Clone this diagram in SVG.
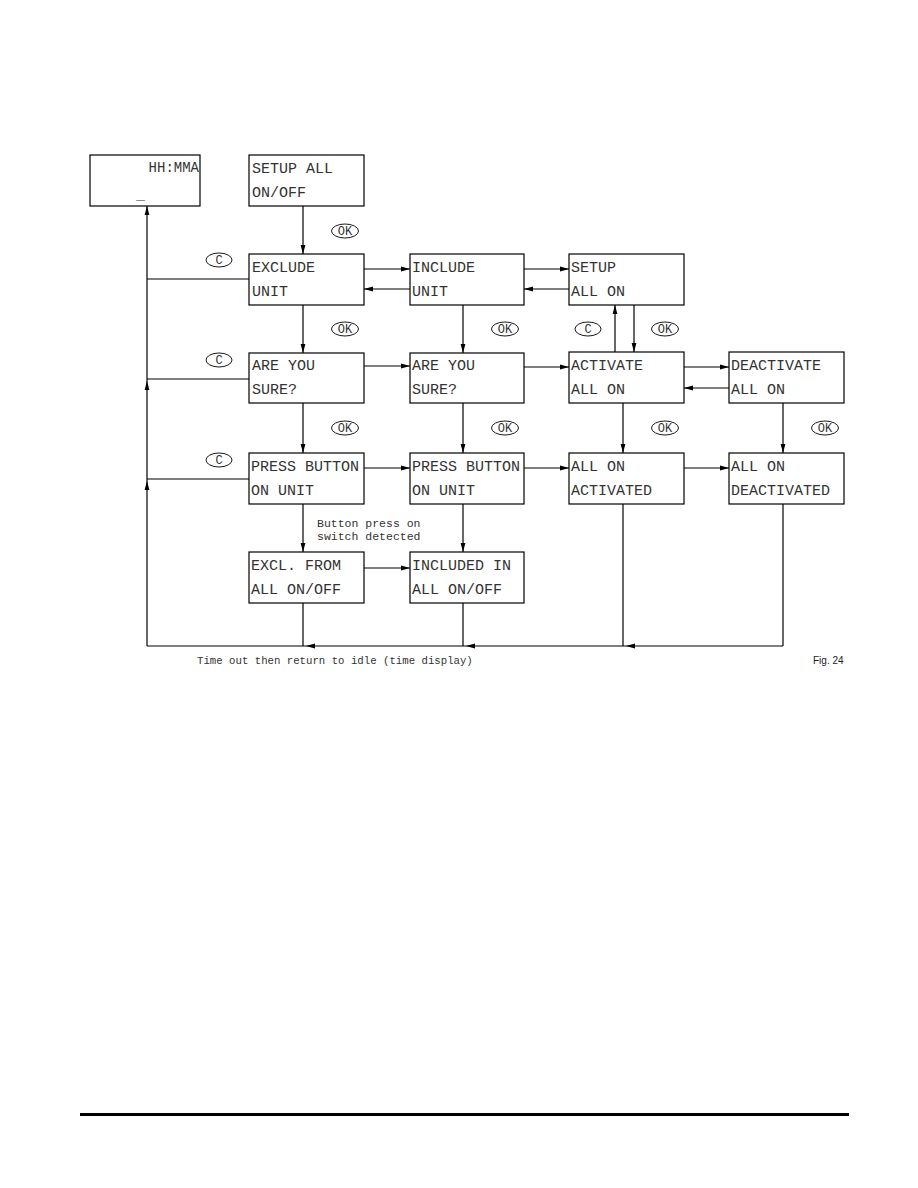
<svg xmlns="http://www.w3.org/2000/svg" width="918" height="1188" viewBox="0 0 918 1188">
<style>
.box{fill:#fff;stroke:#000;stroke-width:1.2}
.ln{fill:none;stroke:#000;stroke-width:1.2}
.t{font-family:"Liberation Mono","DejaVu Sans Mono",monospace;font-size:15px;fill:#333}
.s{font-family:"Liberation Mono","DejaVu Sans Mono",monospace;font-size:11.5px;fill:#333}
.ov{fill:#fff;stroke:#000;stroke-width:0.9}
.ot{font-family:"Liberation Mono","DejaVu Sans Mono",monospace;font-size:12px;fill:#333;text-anchor:middle}
</style>
<defs>
<marker id="ah" markerWidth="10" markerHeight="6" refX="9" refY="3" orient="auto" markerUnits="userSpaceOnUse">
<path d="M0,0.6 L9,3 L0,5.4 Z" fill="#000"/>
</marker>
</defs>
<rect width="918" height="1188" fill="#fff"/>

<g id="connectors">
<line class="ln" x1="303" y1="206" x2="303" y2="254" marker-end="url(#ah)"/>
<line class="ln" x1="364" y1="269" x2="410" y2="269" marker-end="url(#ah)"/>
<line class="ln" x1="410" y1="289" x2="364" y2="289" marker-end="url(#ah)"/>
<line class="ln" x1="524" y1="269" x2="569" y2="269" marker-end="url(#ah)"/>
<line class="ln" x1="569" y1="289" x2="524" y2="289" marker-end="url(#ah)"/>
<line class="ln" x1="303" y1="305" x2="303" y2="353" marker-end="url(#ah)"/>
<line class="ln" x1="463" y1="305" x2="463" y2="353" marker-end="url(#ah)"/>
<line class="ln" x1="615" y1="352" x2="615" y2="305" marker-end="url(#ah)"/>
<line class="ln" x1="634" y1="305" x2="634" y2="352" marker-end="url(#ah)"/>
<line class="ln" x1="364" y1="366" x2="410" y2="366" marker-end="url(#ah)"/>
<line class="ln" x1="524" y1="367" x2="569" y2="367" marker-end="url(#ah)"/>
<line class="ln" x1="684" y1="367" x2="729" y2="367" marker-end="url(#ah)"/>
<line class="ln" x1="729" y1="388" x2="684" y2="388" marker-end="url(#ah)"/>
<line class="ln" x1="303" y1="403" x2="303" y2="453" marker-end="url(#ah)"/>
<line class="ln" x1="463" y1="403" x2="463" y2="453" marker-end="url(#ah)"/>
<line class="ln" x1="623" y1="403" x2="623" y2="453" marker-end="url(#ah)"/>
<line class="ln" x1="783" y1="403" x2="783" y2="453" marker-end="url(#ah)"/>
<line class="ln" x1="364" y1="468" x2="410" y2="468" marker-end="url(#ah)"/>
<line class="ln" x1="524" y1="468" x2="569" y2="468" marker-end="url(#ah)"/>
<line class="ln" x1="684" y1="468" x2="729" y2="468" marker-end="url(#ah)"/>
<line class="ln" x1="303" y1="504" x2="303" y2="552" marker-end="url(#ah)"/>
<line class="ln" x1="463" y1="504" x2="463" y2="552" marker-end="url(#ah)"/>
<line class="ln" x1="364" y1="568" x2="410" y2="568" marker-end="url(#ah)"/>
<line class="ln" x1="303" y1="603" x2="303" y2="646"/>
<line class="ln" x1="463" y1="603" x2="463" y2="646"/>
<line class="ln" x1="623" y1="504" x2="623" y2="646"/>
<line class="ln" x1="783" y1="504" x2="783" y2="646"/>
<line class="ln" x1="783" y1="646" x2="626" y2="646" marker-end="url(#ah)"/>
<line class="ln" x1="626" y1="646" x2="466" y2="646" marker-end="url(#ah)"/>
<line class="ln" x1="466" y1="646" x2="306" y2="646" marker-end="url(#ah)"/>
<line class="ln" x1="306" y1="646" x2="147" y2="646"/>
<line class="ln" x1="147" y1="646" x2="147" y2="481" marker-end="url(#ah)"/>
<line class="ln" x1="147" y1="481" x2="147" y2="381" marker-end="url(#ah)"/>
<line class="ln" x1="147" y1="381" x2="147" y2="206" marker-end="url(#ah)"/>
<line class="ln" x1="249" y1="279" x2="147" y2="279"/>
<line class="ln" x1="249" y1="379" x2="147" y2="379"/>
<line class="ln" x1="249" y1="479" x2="147" y2="479"/>
</g>

<g id="keys">
<ellipse class="ov" cx="345" cy="231" rx="13.5" ry="7"/><text class="ot" x="345" y="235">OK</text>
<ellipse class="ov" cx="219" cy="260" rx="13" ry="7"/><text class="ot" x="219" y="264">C</text>
<ellipse class="ov" cx="345" cy="329" rx="13.5" ry="7"/><text class="ot" x="345" y="333">OK</text>
<ellipse class="ov" cx="505" cy="329" rx="13.5" ry="7"/><text class="ot" x="505" y="333">OK</text>
<ellipse class="ov" cx="588" cy="329" rx="13" ry="7"/><text class="ot" x="588" y="333">C</text>
<ellipse class="ov" cx="665" cy="329" rx="13.5" ry="7"/><text class="ot" x="665" y="333">OK</text>
<ellipse class="ov" cx="219" cy="360" rx="13" ry="7"/><text class="ot" x="219" y="364">C</text>
<ellipse class="ov" cx="345" cy="428" rx="13.5" ry="7"/><text class="ot" x="345" y="432">OK</text>
<ellipse class="ov" cx="505" cy="428" rx="13.5" ry="7"/><text class="ot" x="505" y="432">OK</text>
<ellipse class="ov" cx="665" cy="428" rx="13.5" ry="7"/><text class="ot" x="665" y="432">OK</text>
<ellipse class="ov" cx="825" cy="428" rx="13.5" ry="7"/><text class="ot" x="825" y="432">OK</text>
<ellipse class="ov" cx="219" cy="460" rx="13" ry="7"/><text class="ot" x="219" y="464">C</text>
</g>

<g id="idle">
<rect class="box" x="90" y="155" width="110" height="51"/>
<text class="t" x="199" y="172" text-anchor="end" style="font-size:14px">HH:MMA</text>
<text class="t" x="136" y="199">_</text>
</g>
<g id="setup_all"><rect class="box" x="249" y="155" width="115" height="51"/><text class="t" x="252" y="173">SETUP ALL</text><text class="t" x="252" y="197">ON/OFF</text></g>

<g id="exclude_unit"><rect class="box" x="249" y="254" width="115" height="51"/><text class="t" x="252" y="272">EXCLUDE</text><text class="t" x="252" y="296">UNIT</text></g>
<g id="include_unit"><rect class="box" x="410" y="254" width="114" height="51"/><text class="t" x="412" y="272">INCLUDE</text><text class="t" x="412" y="296">UNIT</text></g>
<g id="setup_all_on"><rect class="box" x="569" y="254" width="115" height="51"/><text class="t" x="571" y="272">SETUP</text><text class="t" x="571" y="296">ALL ON</text></g>

<g id="sure1"><rect class="box" x="249" y="353" width="115" height="50"/><text class="t" x="252" y="370">ARE YOU</text><text class="t" x="252" y="394">SURE?</text></g>
<g id="sure2"><rect class="box" x="410" y="353" width="114" height="50"/><text class="t" x="412" y="370">ARE YOU</text><text class="t" x="412" y="394">SURE?</text></g>
<g id="activate"><rect class="box" x="569" y="352" width="115" height="51"/><text class="t" x="571" y="370">ACTIVATE</text><text class="t" x="571" y="394">ALL ON</text></g>
<g id="deactivate"><rect class="box" x="729" y="352" width="115" height="51"/><text class="t" x="731" y="370">DEACTIVATE</text><text class="t" x="731" y="394">ALL ON</text></g>

<g id="press1"><rect class="box" x="249" y="453" width="115" height="51"/><text class="t" x="251" y="471">PRESS BUTTON</text><text class="t" x="251" y="495">ON UNIT</text></g>
<g id="press2"><rect class="box" x="410" y="453" width="114" height="51"/><text class="t" x="412" y="471">PRESS BUTTON</text><text class="t" x="412" y="495">ON UNIT</text></g>
<g id="activated"><rect class="box" x="569" y="453" width="115" height="51"/><text class="t" x="571" y="471">ALL ON</text><text class="t" x="571" y="495">ACTIVATED</text></g>
<g id="deactivated"><rect class="box" x="729" y="453" width="115" height="51"/><text class="t" x="731" y="471">ALL ON</text><text class="t" x="731" y="495">DEACTIVATED</text></g>

<g id="excl_from"><rect class="box" x="249" y="552" width="115" height="51"/><text class="t" x="251" y="570">EXCL. FROM</text><text class="t" x="251" y="594">ALL ON/OFF</text></g>
<g id="included_in"><rect class="box" x="410" y="552" width="114" height="51"/><text class="t" x="412" y="570">INCLUDED IN</text><text class="t" x="412" y="594">ALL ON/OFF</text></g>

<g id="labels">
<text class="s" x="317" y="527">Button press on</text>
<text class="s" x="317" y="540">switch detected</text>
<text class="s" x="197" y="664" style="font-size:10.7px">Time out then return to idle (time display)</text>
<text x="813" y="664" style="font-family:'Liberation Sans',Arial,sans-serif;font-size:10px;fill:#222">Fig. 24</text>
</g>
<line x1="80" y1="1114.5" x2="849" y2="1114.5" stroke="#000" stroke-width="3"/>
</svg>
